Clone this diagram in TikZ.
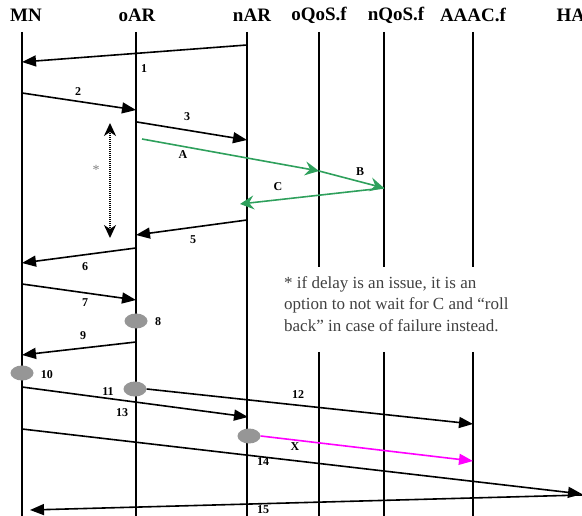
\documentclass[tikz,border=0pt]{standalone}
\usepackage{fontspec}
\setmainfont{Liberation Serif}
\usetikzlibrary{arrows.meta,shapes.geometric}
\definecolor{qosgreen}{RGB}{46,160,92}
\definecolor{stategray}{RGB}{150,150,150}
\definecolor{xmagenta}{RGB}{255,0,255}

\begin{document}
\begin{tikzpicture}[x=1pt, y=-1pt,
    head/.style={font=\fontsize{19}{20}\selectfont\bfseries},
    lifeline/.style={line width=1.5pt},
    msg/.style={line width=1.6pt, -{Triangle[length=14pt,width=11pt]}},
    qos/.style={line width=1.6pt, qosgreen, -{Stealth[length=14pt,width=14pt,inset=5pt]}},
    num/.style={font=\fontsize{12}{12}\selectfont\bfseries},
    state/.style={ellipse, fill=stategray, minimum width=23pt, minimum height=15pt, inner sep=0pt}]
    \useasboundingbox (0,0) rectangle (582,516);

    \node[head] (MN) at (26,15) {MN};
    \node[head] (oAR) at (137,15) {oAR};
    \node[head] (nAR) at (252,15) {nAR};
    \node[head] (oQoS) at (319,15) {oQoS.f};
    \node[head] (nQoS) at (396,15) {nQoS.f};
    \node[head] (AAAC) at (473,15) {AAAC.f};
    \node[head, anchor=west] (HA) at (553,15) {HA};

    \foreach \n/\x in {MN/22, oAR/136, nAR/247, oQoS/319, nQoS/384, AAAC/473} {
        \coordinate (\n-t) at (\x,32);
        \coordinate (\n-g1) at (\x,267);
        \coordinate (\n-g2) at (\x,352);
        \coordinate (\n-b) at (\x,516);
    }
    \foreach \n in {MN, oAR, nAR}
        \draw[lifeline] (\n-t) -- (\n-b);
    \foreach \n in {oQoS, nQoS, AAAC}
        \draw[lifeline] (\n-t) -- (\n-g1) (\n-g2) -- (\n-b);

    \coordinate (m1s) at (247,45);  \coordinate (m1e) at (22,62);
    \coordinate (m2s) at (22,93);   \coordinate (m2e) at (136,110);
    \coordinate (m3s) at (137,122); \coordinate (m3e) at (247,140);
    \coordinate (mAs) at (142,139); \coordinate (mAe) at (319,171);
    \coordinate (mBe) at (384,188);
    \coordinate (mCe) at (240,204);
    \coordinate (m5s) at (247,220); \coordinate (m5e) at (136,235);
    \coordinate (m6s) at (136,248); \coordinate (m6e) at (22,263);
    \coordinate (m7s) at (22,284);  \coordinate (m7e) at (136,300);
    \coordinate (m9s) at (136,342); \coordinate (m9e) at (22,355);
    \coordinate (m12e) at (473,424);
    \coordinate (m13s) at (22,387); \coordinate (m13e) at (248,417);
    \coordinate (mXe) at (473,461);
    \coordinate (m14s) at (22,429); \coordinate (m14e) at (582,494);
    \coordinate (m15s) at (582,495); \coordinate (m15e) at (30,510);
    \coordinate (delay-t) at (110,123); \coordinate (delay-b) at (110,238);

    \draw[msg] (m1s) -- (m1e);
    \draw[msg] (m2s) -- (m2e);
    \draw[msg] (m3s) -- (m3e);
    \draw[qos] (mAs) -- (mAe);
    \draw[qos] (mAe) -- (mBe);
    \draw[qos] (mBe) -- (mCe);
    \draw[msg] (m5s) -- (m5e);
    \draw[msg] (m6s) -- (m6e);
    \draw[msg] (m7s) -- (m7e);
    \draw[msg] (m9s) -- (m9e);
    \draw[msg] (m13s) -- (m13e);
    \draw[msg] (m14s) -- (m14e);
    \draw[msg] (m15s) -- (m15e);
    \draw[line width=2pt, dash pattern=on 1.2pt off 0.8pt, {Stealth[length=13pt,width=12pt,inset=4pt]}-{Stealth[length=13pt,width=12pt,inset=4pt]}] (delay-t) -- (delay-b);

    \node[state] (s8) at (136,321) {};
    \node[state] (s10) at (22,373) {};
    \node[state] (s11) at (135,389) {};
    \node[state] (sX) at (249,436) {};
    \draw[msg] (s11.east) -- (m12e);
    \draw[msg, xmagenta] (sX.east) -- (mXe);

    \node[num] (l1) at (144,69) {1};
    \node[num] (l2) at (78,92) {2};
    \node[num] (l3) at (187,117) {3};
    \node[num] (lA) at (183,155) {A};
    \node[num] (lB) at (360,172) {B};
    \node[num] (lC) at (278,187) {C};
    \node[num] (l5) at (193,240) {5};
    \node[num] (l6) at (85,267) {6};
    \node[num] (l7) at (85,303) {7};
    \node[num] (l8) at (158,322) {8};
    \node[num] (l9) at (83,336) {9};
    \node[num] (l10) at (47,375) {10};
    \node[num] (l11) at (108,392) {11};
    \node[num] (l12) at (298,395) {12};
    \node[num] (l13) at (122,413) {13};
    \node[num] (lX) at (295,447) {X};
    \node[num] (l14) at (263,462) {14};
    \node[num] (l15) at (263,510) {15};
    \node[font=\fontsize{14}{14}\selectfont, text=gray] (star) at (96,170) {*};

    \node[anchor=north west, inner sep=0pt, align=left, text=black!75,
        font=\fontsize{17}{21.5}\selectfont] (note) at (284,276)
        {* if delay is an issue, it is an\\option to not wait for C and “roll\\back” in case of failure instead.};
\end{tikzpicture}
\end{document}
